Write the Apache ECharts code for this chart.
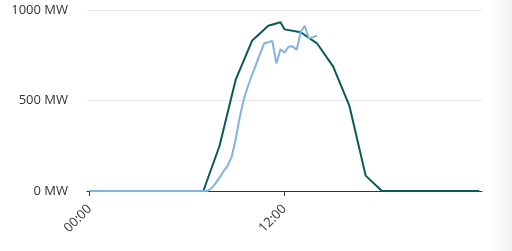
<!DOCTYPE html>
<html>
<head>
<meta charset="utf-8">
<script src="https://cdn.jsdelivr.net/npm/echarts@6/dist/echarts.min.js"></script>
<style>html,body{margin:0;padding:0;background:#fff;}#c{width:512px;height:251px;}</style>
</head>
<body>
<div id="c"></div>
<script>
var forecastHours = [0,1,2,3,4,5,6,7,8,9,10,11,11.75,12,13,14,15,16,17,18,19,20,21,22,23,24];
var forecastMW    = [0,0,0,0,0,0,0,0,250,617,830,913,932,893,877,816,687,470,85,0,0,0,0,0,0,0];

var actualHours = [0,1,2,3,4,5,6,7,7.25,7.5,7.75,8,8.25,8.5,8.75,9,9.25,9.5,9.75,10,10.25,10.5,10.75,11,11.25,11.5,11.75,12,12.25,12.5,12.75,13,13.25,13.5,13.75,14];
var actualMW    = [0,0,0,0,0,0,0,0,0,15,42,75,110,140,190,290,410,510,580,641,700,760,816,822,829,705,783,764,797,800,779,880,913,844,850,858];

var xTickHours = [0, 12];
var yTicks = [0, 500, 1000];

function pairs(xs, ys){ return xs.map(function(x,i){ return [x, ys[i]]; }); }
function hh(v){ var h = Math.round(v); return (h < 10 ? '0' + h : '' + h) + ':00'; }

var chart = echarts.init(document.getElementById('c'), null, {renderer:'canvas'});
chart.setOption({
  animation: false,
  grid: {left: 87, right: 30, top: 10, bottom: 60, containLabel: false},
  graphic: [{
    type: 'rect', silent: true, z: -10,
    shape: {x: 488, y: 0, width: 24, height: 251},
    style: {fill: new echarts.graphic.LinearGradient(0,0,1,0,[{offset:0,color:'rgba(0,0,0,0)'},{offset:1,color:'rgba(0,0,0,0.05)'}])}
  }],
  xAxis: {
    type: 'value', min: -1/6, max: 24 + 1/6,
    splitLine: {show: false},
    axisLine: {show: true, lineStyle: {color: '#333', width: 1}},
    axisTick: {show: true, length: 5, lineStyle: {color: '#333'}, customValues: xTickHours},
    axisLabel: {customValues: xTickHours, rotate: 45, color: '#333', fontFamily: 'Open Sans', fontSize: 13, margin: 16, formatter: hh}
  },
  yAxis: {
    type: 'value', min: yTicks[0], max: yTicks[yTicks.length-1], interval: 500,
    axisLine: {show: false}, axisTick: {show: false},
    splitLine: {lineStyle: {color: '#e6e6e6', width: 1}},
    axisLabel: {color: '#333', fontFamily: 'Open Sans', fontSize: 13, margin: 19, formatter: function(v){ return v + ' MW'; }}
  },
  series: [
    {type: 'line', data: pairs(forecastHours, forecastMW), symbol: 'none', lineStyle: {color: '#0b5a55', width: 2}, itemStyle: {color: '#0b5a55'}},
    {type: 'line', data: pairs(actualHours, actualMW), symbol: 'none', lineStyle: {color: '#80b3e3', width: 2}, itemStyle: {color: '#80b3e3'}}
  ]
});
</script>
</body>
</html>
